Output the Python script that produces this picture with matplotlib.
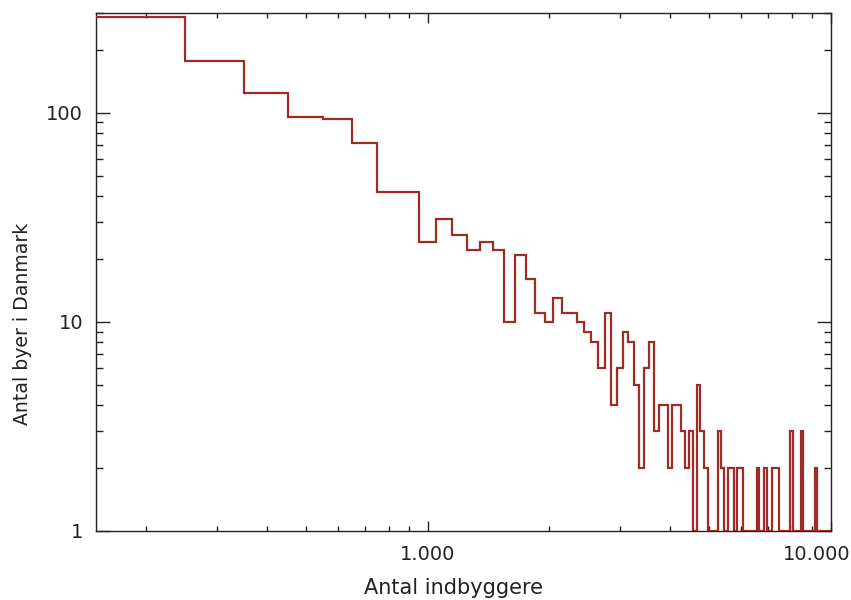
import matplotlib
matplotlib.use("Agg")
import matplotlib.pyplot as plt
import matplotlib.ticker as ticker
import matplotlib.transforms as transforms
import numpy as np

# histogram: towns per 100-inhabitant bin (bins centred on 200, 300, ..., 10000)
bin_edges = list(range(150, 10051, 100))
town_counts = [
    288, 177, 124, 96, 94, 72, 42, 42,          # 200 - 900
    24, 31, 26, 22, 24, 22, 10, 21, 16, 11,     # 1000 - 1900
    10, 13, 11, 11, 10, 9, 8, 6, 11, 4,         # 2000 - 2900
    6, 9, 8, 5, 2, 6, 8, 3, 4, 4,               # 3000 - 3900
    2, 4, 4, 3, 2, 3, 1, 5, 3, 2,               # 4000 - 4900
    1, 1, 1, 3, 2, 1, 2, 2, 1, 2,               # 5000 - 5900
    2, 1, 1, 1, 1, 1, 2, 1, 1, 2,               # 6000 - 6900
    1, 1, 2, 2, 2, 1, 1, 1, 1, 1,               # 7000 - 7900
    3, 1, 1, 1, 1, 3, 1, 1, 1, 1,               # 8000 - 8900
    1, 1, 2, 1, 1, 1, 1, 1, 1, 1,               # 9000 - 9900
    1,                                          # 10000
]

x_tick_values = [1000, 10000]
x_tick_labels = ["1.000", "10.000"]
y_tick_values = [1, 10, 100]
y_tick_labels = ["1", "10", "100"]

line_color = "#9e2b26"
ink = "#222222"

fig = plt.figure(figsize=(8.51, 6.0), dpi=100)
ax = fig.add_axes([0.1125, 0.115, 0.8635, 0.863])

ax.stairs(town_counts, bin_edges, baseline=None, color=line_color, linewidth=1.6, zorder=3)

ax.set_xscale("log")
ax.set_yscale("log")
ax.set_xlim(150, 10000)
ax.set_ylim(1, 300)

ax.set_xticks(x_tick_values)
ax.set_xticklabels(x_tick_labels)
ax.set_yticks(y_tick_values)
ax.set_yticklabels(y_tick_labels)
ax.xaxis.set_minor_locator(ticker.LogLocator(base=10, subs=np.arange(2, 10)))
ax.yaxis.set_minor_locator(ticker.LogLocator(base=10, subs=np.arange(2, 10)))
ax.xaxis.set_minor_formatter(ticker.NullFormatter())
ax.yaxis.set_minor_formatter(ticker.NullFormatter())

ax.tick_params(axis="x", which="major", direction="in", length=7.2, width=1, top=True,
               pad=10, labelsize=14, colors=ink)
ax.tick_params(axis="x", which="minor", direction="in", length=3.6, width=1, top=True, colors=ink)
ax.tick_params(axis="y", which="major", direction="in", length=10, width=1, right=True,
               pad=9, labelsize=14, colors=ink)
ax.tick_params(axis="y", which="minor", direction="in", length=5, width=1, right=True, colors=ink)

for spine in ax.spines.values():
    spine.set_color(ink)
    spine.set_linewidth(1)

# the last x label sits a bit left of its tick so it fits in the figure
last = ax.get_xticklabels()[-1]
last.set_transform(last.get_transform() + transforms.ScaledTranslation(-0.14, 0, fig.dpi_scale_trans))

# axis titles placed where the original has them (not centred on the axes)
fig.text(453 / 851, 1 - 588 / 600, "Antal indbyggere", fontsize=15, color=ink,
         ha="center", va="center")
fig.text(22.5 / 851, 1 - 324 / 600, "Antal byer i Danmark", fontsize=13.6, color=ink,
         ha="center", va="center", rotation=90)

fig.savefig("out.png", dpi=100)
